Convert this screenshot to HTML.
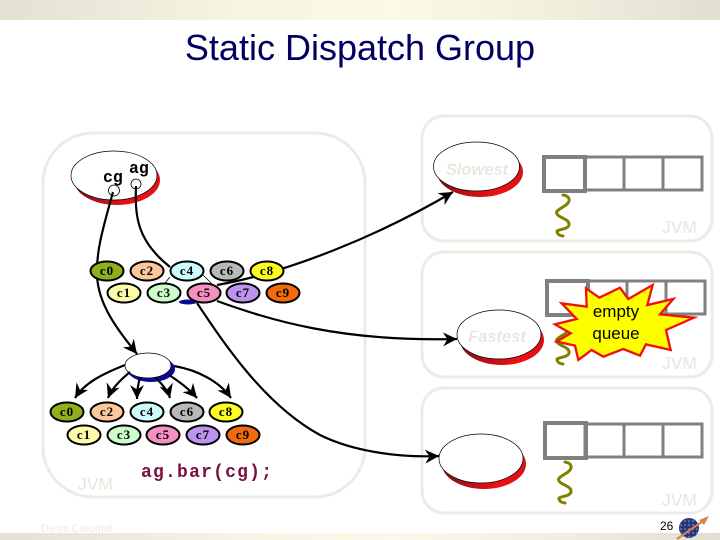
<!DOCTYPE html>
<html><head><meta charset="utf-8"><style>html,body{margin:0;padding:0;background:#fff}svg{display:block}</style></head><body>
<svg width="720" height="540" viewBox="0 0 720 540" xmlns="http://www.w3.org/2000/svg">
<defs>
<linearGradient id="b" x1="0" x2="1" y1="0" y2="0"><stop offset="0" stop-color="#e3e1d2"/><stop offset=".35" stop-color="#f8f5e4"/><stop offset=".55" stop-color="#fdf9e8"/><stop offset=".8" stop-color="#f0eddd"/><stop offset="1" stop-color="#e1dfd0"/></linearGradient>
<linearGradient id="r" x1="0" x2="1" y1="0" y2="0"><stop offset="0" stop-color="#7a1018"/><stop offset=".35" stop-color="#c01018"/><stop offset=".7" stop-color="#f01010"/><stop offset="1" stop-color="#d81018"/></linearGradient>
<pattern id="d" width="4" height="4" patternUnits="userSpaceOnUse"><rect width="4" height="4" fill="#2a3a80"/><circle cx="1" cy="1" r=".9" fill="#7484b8"/><circle cx="3" cy="3" r=".6" fill="#141e58"/></pattern>
<marker id="a" markerUnits="userSpaceOnUse" markerWidth="16" markerHeight="16" refX="14" refY="7" orient="auto"><path d="M0,0 L14,7 L0,14 L4.500,7 z" fill="#000"/></marker>
</defs>
<rect width="720" height="540" fill="#fff"/>
<rect width="720" height="20" fill="url(#b)"/>
<rect y="533" width="720" height="7" fill="url(#b)"/>
<text x="360" y="60" text-anchor="middle" font-family="Liberation Sans, sans-serif" font-size="36" fill="#000060">Static Dispatch Group</text>

<g fill="none" stroke="#ecece4" stroke-width="3">
<rect x="43" y="133" width="322" height="364" rx="50"/>
<rect x="422" y="116" width="290" height="125" rx="22"/>
<rect x="422" y="252" width="290" height="125" rx="22"/>
<rect x="422" y="388" width="290" height="125" rx="22"/>
</g>
<g font-family="Liberation Sans, sans-serif" font-size="17.500" fill="#e6e6dc">
<text x="662" y="233">JVM</text><text x="662" y="369">JVM</text><text x="662" y="506">JVM</text><text x="78" y="490">JVM</text>
</g>
<text x="41" y="532" font-family="Liberation Sans, sans-serif" font-size="10.800" fill="#ebebe3">Denis Caromel</text>

<!-- cg/ag ellipse -->
<ellipse cx="117" cy="180" rx="43" ry="25" fill="url(#r)"/>
<ellipse cx="114" cy="175.500" rx="43" ry="24.500" fill="#fff" stroke="#000" stroke-width=".7"/>
<circle cx="114" cy="190.500" r="5.500" fill="#fff" stroke="#000" stroke-width=".8"/>
<circle cx="136" cy="184" r="5" fill="#fff" stroke="#000" stroke-width=".8"/>
<g font-family="Liberation Mono, monospace" font-weight="bold" font-size="16.500" fill="#000">
<text x="103" y="182">cg</text><text x="129" y="173">ag</text>
</g>

<!-- curves behind nodes -->
<g fill="none" stroke="#000" stroke-width="2.200">
<path d="M113,192 C104,225 96,250 97,275 C98,305 118,330 137,354" marker-end="url(#a)"/>
<path d="M136,186 C135,215 136,240 170,267"/>
<path d="M197,303 C225,345 265,405 320,435 C350,450 395,458 439,456" marker-end="url(#a)"/>
<path d="M217,285 C290,272 380,235 453,192" marker-end="url(#a)"/>
<path d="M217,301 C270,320 340,342 457,339" marker-end="url(#a)"/>
</g>
<path d="M170,277 L165,283 M203,275 L213,285" stroke="#000" stroke-width=".8"/>
<ellipse cx="188" cy="302" rx="9" ry="2.500" fill="#0a0a96"/>

<!-- upper nodes -->
<g stroke="#000" stroke-width="2">
<ellipse cx="107" cy="271" rx="16.500" ry="9.500" fill="#8fb01c"/>
<ellipse cx="147" cy="271" rx="16.500" ry="9.500" fill="#fcc89b"/>
<ellipse cx="187" cy="271" rx="16.500" ry="9.500" fill="#ccfcfc"/>
<ellipse cx="227" cy="271" rx="16.500" ry="9.500" fill="#b8b8b8"/>
<ellipse cx="267" cy="271" rx="16.500" ry="9.500" fill="#fcfc20"/>
<ellipse cx="124" cy="293" rx="16.500" ry="9.500" fill="#fcfca8"/>
<ellipse cx="164" cy="293" rx="16.500" ry="9.500" fill="#ccfccc"/>
<ellipse cx="204" cy="293" rx="16.500" ry="9.500" fill="#f490c0"/>
<ellipse cx="243" cy="293" rx="16.500" ry="9.500" fill="#bc94f0"/>
<ellipse cx="283" cy="293" rx="16.500" ry="9.500" fill="#f26a0c"/>
</g>
<g font-family="Liberation Serif, serif" font-weight="bold" font-size="13" letter-spacing="1" text-anchor="middle" fill="#000">
<text x="107" y="275">c0</text><text x="147" y="275">c2</text><text x="187" y="275">c4</text><text x="227" y="275">c6</text><text x="267" y="275">c8</text>
<text x="124" y="297">c1</text><text x="164" y="297">c3</text><text x="204" y="297">c5</text><text x="243" y="297">c7</text><text x="283" y="297">c9</text>
</g>

<!-- middle ellipse -->
<ellipse cx="151" cy="369" rx="24" ry="13" fill="#0a0a96"/>
<ellipse cx="148" cy="365.500" rx="23" ry="12.500" fill="#fff" stroke="#000" stroke-width=".7"/>
<g fill="none" stroke="#000" stroke-width="2.200">
<path d="M125,365 C105,373 85,382 75,398" marker-end="url(#a)"/>
<path d="M130,372 C120,380 112,388 108,398" marker-end="url(#a)"/>
<path d="M140,378 C138,384 137,391 137,399" marker-end="url(#a)"/>
<path d="M156,378 C162,384 168,391 170,398" marker-end="url(#a)"/>
<path d="M169,375 C180,382 190,390 197,398" marker-end="url(#a)"/>
<path d="M174,366 C198,370 220,382 231,398" marker-end="url(#a)"/>
</g>

<!-- lower nodes -->
<g stroke="#000" stroke-width="2">
<ellipse cx="67" cy="412" rx="16.500" ry="9.500" fill="#8fb01c"/>
<ellipse cx="107" cy="412" rx="16.500" ry="9.500" fill="#fcc89b"/>
<ellipse cx="147" cy="412" rx="16.500" ry="9.500" fill="#ccfcfc"/>
<ellipse cx="187" cy="412" rx="16.500" ry="9.500" fill="#b8b8b8"/>
<ellipse cx="226" cy="412" rx="16.500" ry="9.500" fill="#fcfc20"/>
<ellipse cx="84" cy="435" rx="16.500" ry="9.500" fill="#fcfca8"/>
<ellipse cx="124" cy="435" rx="16.500" ry="9.500" fill="#ccfccc"/>
<ellipse cx="163" cy="435" rx="16.500" ry="9.500" fill="#f490c0"/>
<ellipse cx="203" cy="435" rx="16.500" ry="9.500" fill="#bc94f0"/>
<ellipse cx="243" cy="435" rx="16.500" ry="9.500" fill="#f26a0c"/>
</g>
<g font-family="Liberation Serif, serif" font-weight="bold" font-size="13" letter-spacing="1" text-anchor="middle" fill="#000">
<text x="67" y="416">c0</text><text x="107" y="416">c2</text><text x="147" y="416">c4</text><text x="187" y="416">c6</text><text x="226" y="416">c8</text>
<text x="84" y="439">c1</text><text x="124" y="439">c3</text><text x="163" y="439">c5</text><text x="203" y="439">c7</text><text x="243" y="439">c9</text>
</g>
<text x="141" y="477" font-family="Liberation Mono, monospace" font-weight="bold" font-size="18" textLength="131" lengthAdjust="spacing" fill="#7a1040">ag.bar(cg);</text>

<!-- server ellipses -->
<ellipse cx="480" cy="172" rx="43" ry="25" fill="url(#r)"/>
<ellipse cx="476.500" cy="166.500" rx="43" ry="24.500" fill="#fff" stroke="#000" stroke-width=".7"/>
<text x="477" y="175" text-anchor="middle" font-family="Liberation Sans, sans-serif" font-weight="bold" font-style="italic" font-size="16.500" fill="#e8e8e0">Slowest</text>
<ellipse cx="502" cy="340" rx="42" ry="25" fill="url(#r)"/>
<ellipse cx="499" cy="334.500" rx="42" ry="24.500" fill="#fff" stroke="#000" stroke-width=".7"/>
<text x="497" y="342" text-anchor="middle" font-family="Liberation Sans, sans-serif" font-weight="bold" font-style="italic" font-size="16.500" fill="#e8e8e0">Fastest</text>
<ellipse cx="484" cy="464" rx="42" ry="25" fill="url(#r)"/>
<ellipse cx="481" cy="458.500" rx="42" ry="24.500" fill="#fff" stroke="#000" stroke-width=".7"/>

<!-- queues -->
<g fill="none" stroke="#808080" stroke-width="3">
<rect x="585" y="157" width="39" height="33"/><rect x="624" y="157" width="39" height="33"/><rect x="663" y="157" width="39" height="33"/>
<rect x="588" y="281" width="39" height="33"/><rect x="627" y="281" width="39" height="33"/><rect x="666" y="281" width="39" height="33"/>
<rect x="585" y="424" width="39" height="33"/><rect x="624" y="424" width="39" height="33"/><rect x="663" y="424" width="39" height="33"/>
</g>
<g fill="none" stroke="#808080" stroke-width="4">
<rect x="544" y="157" width="41" height="34"/>
<rect x="547" y="281" width="41" height="34"/>
<rect x="545" y="423" width="41" height="35"/>
</g>
<g fill="none" stroke="#808000" stroke-width="3" stroke-linecap="round">
<path d="M563,195 C570,196 571,201 566,205 C560,209 555,211 557,214 C559,218 570,219 569,225 C568,230 556,229 557,232 C558,235 561,236 563,236"/>
<path d="M563,323 C570,324 571,329 566,333 C560,337 555,339 557,342 C559,346 570,347 569,353 C568,358 556,357 557,360 C558,363 561,364 563,364"/>
<path d="M565,462 C572,463 573,468 568,472 C562,476 557,478 559,481 C561,485 572,486 571,492 C570,497 558,496 559,499 C560,502 563,503 565,503"/>
</g>

<!-- star -->
<g transform="translate(540,275) scale(.3333)">
<polygon points="138,40 178,68 240,38 265,72 338,30 322,90 400,72 360,118 462,128 378,165 392,225 318,208 300,242 250,222 190,245 155,225 115,255 105,212 50,200 92,175 45,148 110,132 65,85 140,95" fill="#ffff00" stroke="#f01010" stroke-width="7" stroke-linejoin="miter"/>
</g>
<g font-family="Liberation Sans, sans-serif" font-size="17" text-anchor="middle" fill="#000">
<text x="616" y="317">empty</text><text x="616" y="339">queue</text>
</g>

<!-- footer -->
<text x="660" y="530" font-family="Liberation Sans, sans-serif" font-size="12" fill="#000">26</text>
<circle cx="689" cy="528" r="10" fill="url(#d)"/>
<path d="M677,539 L706,519" stroke="#d98050" stroke-width="2" fill="none"/>
<path d="M709,516 L699,520 L704,525 z" fill="#d98050"/>
</svg>
</body></html>
